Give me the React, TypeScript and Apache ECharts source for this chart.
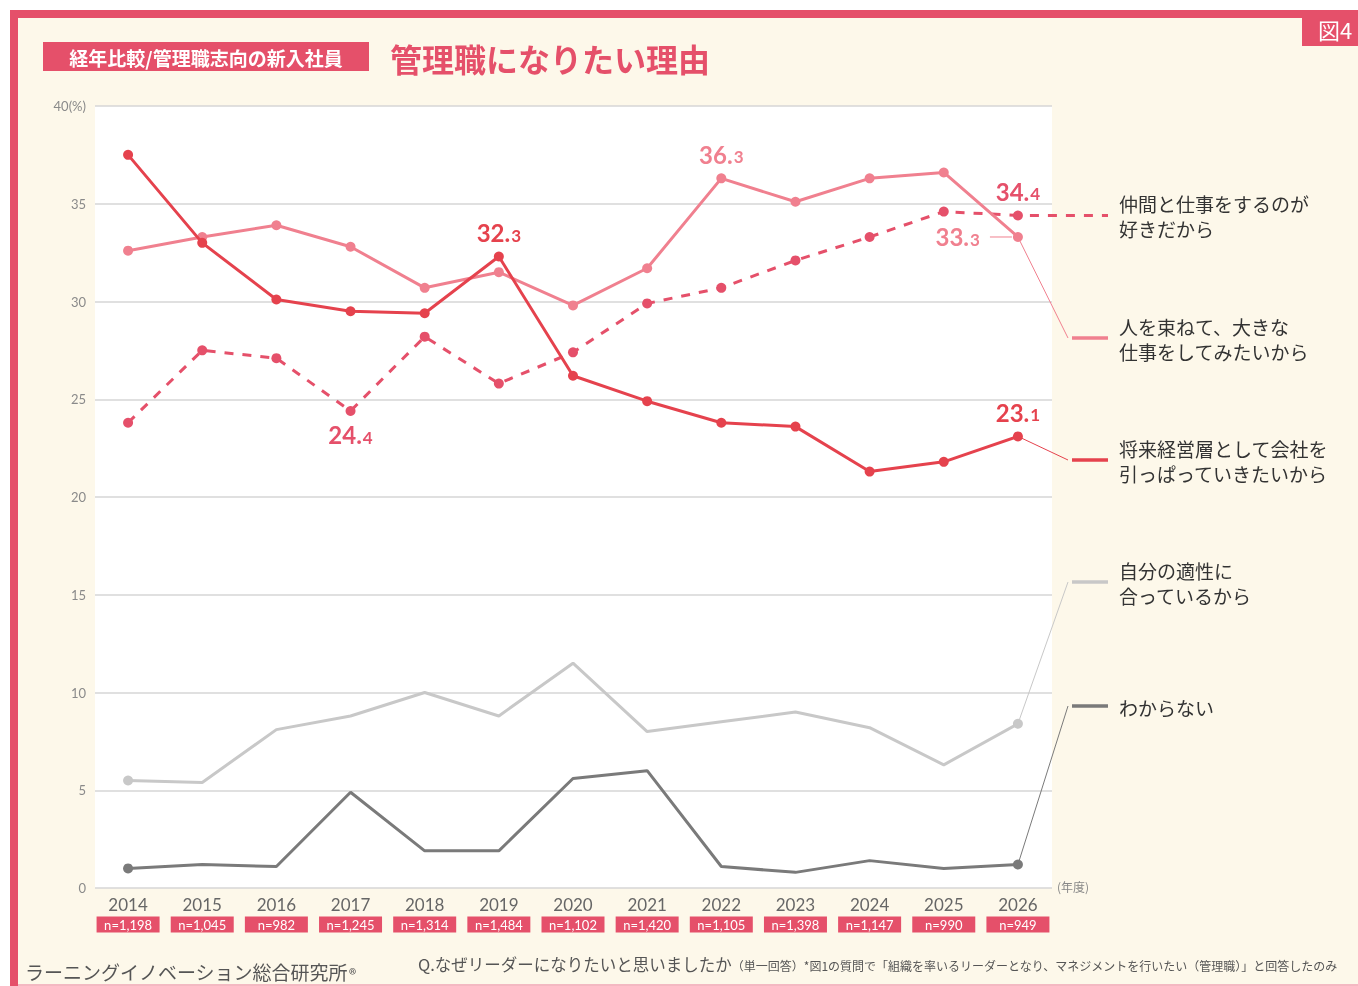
import React, { useEffect, useRef } from "react";
import * as echarts from "echarts";

const years = ["2014", "2015", "2016", "2017", "2018", "2019", "2020", "2021", "2022", "2023", "2024", "2025", "2026"];
const sampleSizes = ["n=1,198", "n=1,045", "n=982", "n=1,245", "n=1,314", "n=1,484", "n=1,102", "n=1,420", "n=1,105", "n=1,398", "n=1,147", "n=990", "n=949"];
const leadCompany = [37.5, 33.0, 30.1, 29.5, 29.4, 32.3, 26.2, 24.9, 23.8, 23.6, 21.3, 21.8, 23.1];
const bigWork = [32.6, 33.3, 33.9, 32.8, 30.7, 31.5, 29.8, 31.7, 36.3, 35.1, 36.3, 36.6, 33.3];
const withColleagues = [23.8, 27.5, 27.1, 24.4, 28.2, 25.8, 27.4, 29.9, 30.7, 32.1, 33.3, 34.6, 34.4];
const suitsMe = [5.5, 5.4, 8.1, 8.8, 10.0, 8.8, 11.5, 8.0, 8.5, 9.0, 8.2, 6.3, 8.4];
const dontKnow = [1.0, 1.2, 1.1, 4.9, 1.9, 1.9, 5.6, 6.0, 1.1, 0.8, 1.4, 1.0, 1.2];
const seriesNames = [
  "仲間と仕事をするのが\n好きだから",
  "人を束ねて、大きな\n仕事をしてみたいから",
  "将来経営層として会社を\n引っぱっていきたいから",
  "自分の適性に\n合っているから",
  "わからない",
];
const yMin = 0;
const yMax = 40;
const yStep = 5;

const PINK = "#e5506a";
const RED = "#e5424d";
const LIGHTPINK = "#f0808f";
const LGRAY = "#c8c8c8";
const DGRAY = "#7a7a7a";
const JP = '"Noto Sans CJK JP", "Noto Sans", sans-serif';
const NUM = 'Lato, "Noto Sans", sans-serif';

const labelRich = (color: string) => ({
  a: { fontSize: 24, fontWeight: "bold", color, fontFamily: NUM },
  b: { fontSize: 17, fontWeight: "bold", color, fontFamily: NUM, padding: [5, 0, 0, 1] },
});
const fmtLabel = (p: any) => {
  const s = Number(p.value).toFixed(1).split(".");
  return `{a|${s[0]}.}{b|${s[1]}}`;
};

function makeData(values: number[], labels: Record<number, string>, color: string, endsOnly = false) {
  return values.map((v, i) => {
    const item: any = { value: v };
    if (endsOnly && i !== 0 && i !== values.length - 1) item.symbolSize = 0;
    if (labels[i]) {
      item.label = {
        show: true,
        position: labels[i],
        distance: labels[i] === "left" ? 33 : 7,
        formatter: fmtLabel,
        rich: labelRich(color),
      };
    }
    return item;
  });
}

export default function App() {
  const ref = useRef<HTMLDivElement>(null);
  useEffect(() => {
    if (!ref.current) return;
    const chart = echarts.init(ref.current, undefined, { renderer: "svg" });
    const gridTop = 106;
    const gridBottom = 986 - 888;
    const lineSeries = (name: string, data: any[], color: string, dashed: boolean, z: number) => ({
      type: "line",
      name,
      xAxisIndex: 1,
      yAxisIndex: 1,
      data,
      symbol: "circle",
      symbolSize: 10,
      z,
      itemStyle: { color },
      lineStyle: { color, width: 3, type: dashed ? [9, 9] : "solid" },
      label: { show: false },
    });
    const option: any = {
      animation: false,
      backgroundColor: "transparent",
      grid: [
        { left: 95, width: 957, top: gridTop, bottom: gridBottom, show: true, backgroundColor: "#ffffff", borderWidth: 0 },
        { left: 91, width: 964, top: gridTop, bottom: gridBottom },
      ],
      xAxis: [
        { type: "value", gridIndex: 0, min: 0, max: 1, show: false },
        {
          type: "category",
          gridIndex: 1,
          data: years,
          boundaryGap: true,
          axisLine: { show: false },
          axisTick: { show: false },
          axisLabel: {
            margin: 3,
            interval: 0,
            formatter: (v: string, i: number) => `{y|${v}}\n{n|${sampleSizes[i]}}`,
            rich: {
              y: { fontSize: 17, color: "#666", fontFamily: NUM, lineHeight: 26, align: "center" },
              n: {
                fontSize: 13,
                color: "#fff",
                fontFamily: NUM,
                backgroundColor: PINK,
                width: 63,
                height: 15,
                lineHeight: 15,
                align: "center",
                padding: [1, 0, 0, 0],
              },
            },
          },
        },
      ],
      yAxis: [
        {
          type: "value",
          gridIndex: 0,
          min: yMin,
          max: yMax,
          interval: yStep,
          axisLine: { show: false },
          axisTick: { show: false },
          axisLabel: {
            margin: 9,
            color: "#8a8a8a",
            fontSize: 13,
            fontFamily: NUM,
            formatter: (v: number) => (v === yMax ? `${v}(%)` : `${v}`),
          },
          splitLine: { lineStyle: { color: "#d6d6d6", width: 1.5 } },
        },
        { type: "value", gridIndex: 1, min: yMin, max: yMax, interval: yStep, show: false },
      ],
      series: [
        lineSeries(seriesNames[4], makeData(dontKnow, {}, DGRAY, true), DGRAY, false, 2),
        lineSeries(seriesNames[3], makeData(suitsMe, {}, LGRAY, true), LGRAY, false, 2),
        lineSeries(seriesNames[0], makeData(withColleagues, { 3: "bottom", 12: "top" }, PINK), PINK, true, 3),
        lineSeries(seriesNames[1], makeData(bigWork, { 8: "top", 12: "left" }, LIGHTPINK), LIGHTPINK, false, 4),
        lineSeries(seriesNames[2], makeData(leadCompany, { 5: "top", 12: "top" }, RED), RED, false, 5),
      ],
    };
    chart.setOption(option);

    const last = years.length - 1;
    const pt = (v: number) => chart.convertToPixel({ xAxisIndex: 1, yAxisIndex: 1 }, [last, v]) as number[];
    const pDash = pt(withColleagues[last]);
    const pPink = pt(bigWork[last]);
    const pRed = pt(leadCompany[last]);
    const pLG = pt(suitsMe[last]);
    const pDG = pt(dontKnow[last]);
    const legX0 = 1072;
    const legX1 = 1108;
    const legendRows = [
      { y: pDash[1], color: PINK, dashed: true, text: seriesNames[0], from: pDash },
      { y: 338, color: LIGHTPINK, dashed: false, text: seriesNames[1], from: pPink },
      { y: 460, color: RED, dashed: false, text: seriesNames[2], from: pRed },
      { y: 582, color: LGRAY, dashed: false, text: seriesNames[3], from: pLG },
      { y: 706, color: DGRAY, dashed: false, text: seriesNames[4], from: pDG },
    ];
    const legendEls: any[] = [];
    legendRows.forEach((r) => {
      if (r.dashed) {
        legendEls.push({
          type: "line",
          shape: { x1: r.from[0] + 12, y1: r.y, x2: legX1, y2: r.y },
          style: { stroke: r.color, lineWidth: 3, lineDash: [9, 9] },
          z: 10,
        });
      } else {
        legendEls.push({
          type: "line",
          shape: { x1: r.from[0], y1: r.from[1], x2: legX0 - 4, y2: r.y },
          style: { stroke: r.color, lineWidth: 1 },
          z: 1,
        });
        legendEls.push({
          type: "line",
          shape: { x1: legX0, y1: r.y, x2: legX1, y2: r.y },
          style: { stroke: r.color, lineWidth: 3.5 },
          z: 10,
        });
      }
      legendEls.push({
        type: "text",
        x: 1119,
        y: r.y + 1,
        z: 10,
        style: {
          text: r.text,
          fill: "#333",
          font: `19px ${JP}`,
          lineHeight: 25,
          verticalAlign: "middle",
          align: "left",
        },
      });
    });
    // leader for the 33.3 label
    legendEls.push({
      type: "line",
      shape: { x1: pPink[0] - 28, y1: pPink[1], x2: pPink[0] - 6, y2: pPink[1] },
      style: { stroke: LIGHTPINK, lineWidth: 1 },
      z: 10,
    });

    const graphic: any[] = [
      { type: "rect", shape: { x: 0, y: 0, width: 1358, height: 986 }, style: { fill: "#ffffff" }, z: -20 },
      { type: "rect", shape: { x: 18, y: 18, width: 1340, height: 968 }, style: { fill: "#fdf8ea" }, z: -19 },
      { type: "rect", shape: { x: 10, y: 10, width: 1348, height: 8 }, style: { fill: PINK }, z: -18 },
      { type: "rect", shape: { x: 10, y: 10, width: 8, height: 976 }, style: { fill: PINK }, z: -18 },
      { type: "rect", shape: { x: 18, y: 984, width: 1340, height: 2 }, style: { fill: "#f4b8c2" }, z: -18 },
      { type: "rect", shape: { x: 1302, y: 10, width: 56, height: 36 }, style: { fill: PINK }, z: 5 },
      {
        type: "text", x: 1335, y: 29, z: 6,
        style: { text: "図4", fill: "#fff", font: `22px ${JP}`, align: "center", verticalAlign: "middle" },
      },
      { type: "rect", shape: { x: 43, y: 42, width: 326, height: 29 }, style: { fill: PINK }, z: 5 },
      {
        type: "text", x: 206, y: 57, z: 6,
        style: { text: "経年比較/管理職志向の新入社員", fill: "#fff", font: `bold 19px ${JP}`, align: "center", verticalAlign: "middle" },
      },
      {
        type: "text", x: 390, y: 58, z: 6,
        style: { text: "管理職になりたい理由", fill: PINK, font: `bold 32px ${JP}`, align: "left", verticalAlign: "middle" },
      },
      {
        type: "text", x: 1057, y: 886, z: 6,
        style: { text: "(年度)", fill: "#888", font: `12px ${JP}`, align: "left", verticalAlign: "middle" },
      },
      {
        type: "text", x: 25, y: 971, z: 6,
        style: {
          text: "{m|ラーニングイノベーション総合研究所}{r|®}",
          align: "left",
          verticalAlign: "middle",
          rich: {
            m: { fontSize: 19, fill: "#555", fontFamily: JP },
            r: { fontSize: 15, fill: "#555", fontFamily: JP, padding: [4, 0, 0, 1] },
          },
        },
      },
      {
        type: "text", x: 418, y: 964, z: 6,
        style: {
          text: "{q|Q.なぜリーダーになりたいと思いましたか}{s|（単一回答）*図1の質問で「組織を率いるリーダーとなり、マネジメントを行いたい（管理職）」と回答したのみ}",
          align: "left",
          verticalAlign: "middle",
          rich: {
            q: { fontSize: 16.5, fill: "#555", fontFamily: JP },
            s: { fontSize: 12, fill: "#555", fontFamily: JP, padding: [3, 0, 0, 0] },
          },
        },
      },
      ...legendEls,
    ];
    chart.setOption({ graphic });
    return () => chart.dispose();
  }, []);
  return <div ref={ref} style={{ position: "fixed", left: 0, top: 0, width: 1358, height: 986 }} />;
}
